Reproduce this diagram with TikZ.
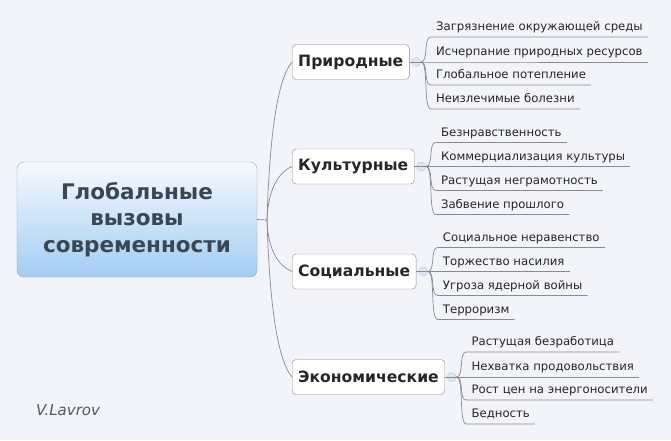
\documentclass[tikz,border=0pt]{standalone}
\usepackage{fontspec}
\setmainfont{DejaVu Sans}
\usepackage{tikz}
\usetikzlibrary{positioning,calc}
\definecolor{PaperBg}{RGB}{243,244,249}
\definecolor{RootTop}{RGB}{246,250,254}
\definecolor{RootBot}{RGB}{163,204,242}
\definecolor{RootEdge}{RGB}{140,163,188}
\definecolor{RootInk}{RGB}{58,70,84}
\definecolor{LinkGray}{RGB}{135,138,145}
\definecolor{KnobBlue}{RGB}{176,198,228}
\tikzset{
  root/.style={draw=RootEdge,top color=RootTop,bottom color=RootBot,rounded corners=7pt,
    minimum width=240pt,minimum height=115pt,align=center,text=RootInk,
    font=\bfseries\fontsize{21.5}{26.5}\selectfont},
  cat/.style={draw=black!45,fill=white,rounded corners=4pt,anchor=west,inner xsep=6pt,
    minimum height=35pt,text=black!85,font=\bfseries\fontsize{15.6}{18}\selectfont},
  knob/.style={circle,draw=KnobBlue,fill=KnobBlue!50,fill opacity=0.7,minimum size=9pt,inner sep=0pt},
  leaf/.style={anchor=south west,inner xsep=5pt,inner ysep=3pt,text depth=3pt,
    text=black!85,font=\fontsize{11.7}{14}\selectfont},
  link/.style={draw=LinkGray,line width=0.7pt},
  sign/.style={text=RootInk!90,font=\itshape\fontsize{15}{18}\selectfont},
}

\begin{document}
\begin{tikzpicture}[x=1pt,y=1pt]
\fill[PaperBg] (0,0) rectangle (671,-440);
\useasboundingbox (0,0) rectangle (671,-440);

\node[root] (root) at (137,-219.5) {Глобальные\\вызовы\\современности};
\coordinate (hub) at (267,-220);

\node[cat] (nat) at (292,-62) {Природные};
\node[cat] (cul) at (292,-166.5) {Культурные};
\node[cat] (soc) at (292,-271.5) {Социальные};
\node[cat] (eco) at (292,-377) {Экономические};

\node[knob,right=2pt of nat] (natm) {};
\node[knob,right=2pt of cul] (culm) {};
\node[knob,right=2pt of soc] (socm) {};
\node[knob,right=2pt of eco] (ecom) {};

% Природные
\node[leaf] (nat1) at ($(natm.east)+(10,25)$) {Загрязнение окружающей среды};
\node[leaf] (nat2) at ($(natm.east)+(10,0)$) {Исчерпание природных ресурсов};
\node[leaf] (nat3) at ($(natm.east)+(10,-23)$) {Глобальное потепление};
\node[leaf] (nat4) at ($(natm.east)+(10,-47)$) {Неизлечимые болезни};

% Культурные
\node[leaf] (cul1) at ($(culm.east)+(10,24)$) {Безнравственность};
\node[leaf] (cul2) at ($(culm.east)+(10,0)$) {Коммерциализация культуры};
\node[leaf] (cul3) at ($(culm.east)+(10,-24)$) {Растущая неграмотность};
\node[leaf] (cul4) at ($(culm.east)+(10,-48)$) {Забвение прошлого};

% Социальные
\node[leaf] (soc1) at ($(socm.east)+(10,24)$) {Социальное неравенство};
\node[leaf] (soc2) at ($(socm.east)+(10,0)$) {Торжество насилия};
\node[leaf] (soc3) at ($(socm.east)+(10,-24)$) {Угроза ядерной войны};
\node[leaf] (soc4) at ($(socm.east)+(10,-48)$) {Терроризм};

% Экономические
\node[leaf] (eco1) at ($(ecom.east)+(10,25)$) {Растущая безработица};
\node[leaf] (eco2) at ($(ecom.east)+(10,0)$) {Нехватка продовольствия};
\node[leaf] (eco3) at ($(ecom.east)+(10,-23)$) {Рост цен на энергоносители};
\node[leaf] (eco4) at ($(ecom.east)+(10,-47)$) {Бедность};

% trunk
\draw[link] (root.east) -- (hub);
\draw[link] (hub) .. controls +(3,100) and +(-12,-14) .. (nat.west);
\draw[link] (hub) .. controls +(1,30) and +(-14,-6) .. (cul.west);
\draw[link] (hub) .. controls +(1,-30) and +(-14,6) .. (soc.west);
\draw[link] (hub) .. controls +(3,-100) and +(-12,14) .. (eco.west);

% branches
\draw[link] (nat.east) -- (natm.east);
\draw[link] (cul.east) -- (culm.east);
\draw[link] (soc.east) -- (socm.east);
\draw[link] (eco.east) -- (ecom.east);

\draw[link] (natm.east) .. controls +(8,0) and +(-8,0) .. (nat1.south west) -- (nat1.south east);
\draw[link] (natm.east) -- (nat2.south west) -- (nat2.south east);
\draw[link] (natm.east) .. controls +(8,0) and +(-8,0) .. (nat3.south west) -- (nat3.south east);
\draw[link] (natm.east) .. controls +(8,0) and +(-8,0) .. (nat4.south west) -- (nat4.south east);

\draw[link] (culm.east) .. controls +(8,0) and +(-8,0) .. (cul1.south west) -- (cul1.south east);
\draw[link] (culm.east) -- (cul2.south west) -- (cul2.south east);
\draw[link] (culm.east) .. controls +(8,0) and +(-8,0) .. (cul3.south west) -- (cul3.south east);
\draw[link] (culm.east) .. controls +(8,0) and +(-8,0) .. (cul4.south west) -- (cul4.south east);

\draw[link] (socm.east) .. controls +(8,0) and +(-8,0) .. (soc1.south west) -- (soc1.south east);
\draw[link] (socm.east) -- (soc2.south west) -- (soc2.south east);
\draw[link] (socm.east) .. controls +(8,0) and +(-8,0) .. (soc3.south west) -- (soc3.south east);
\draw[link] (socm.east) .. controls +(8,0) and +(-8,0) .. (soc4.south west) -- (soc4.south east);

\draw[link] (ecom.east) .. controls +(8,0) and +(-8,0) .. (eco1.south west) -- (eco1.south east);
\draw[link] (ecom.east) -- (eco2.south west) -- (eco2.south east);
\draw[link] (ecom.east) .. controls +(8,0) and +(-8,0) .. (eco3.south west) -- (eco3.south east);
\draw[link] (ecom.east) .. controls +(8,0) and +(-8,0) .. (eco4.south west) -- (eco4.south east);

\node[sign] (author) at (68,-410) {V.Lavrov};
\end{tikzpicture}
\end{document}
